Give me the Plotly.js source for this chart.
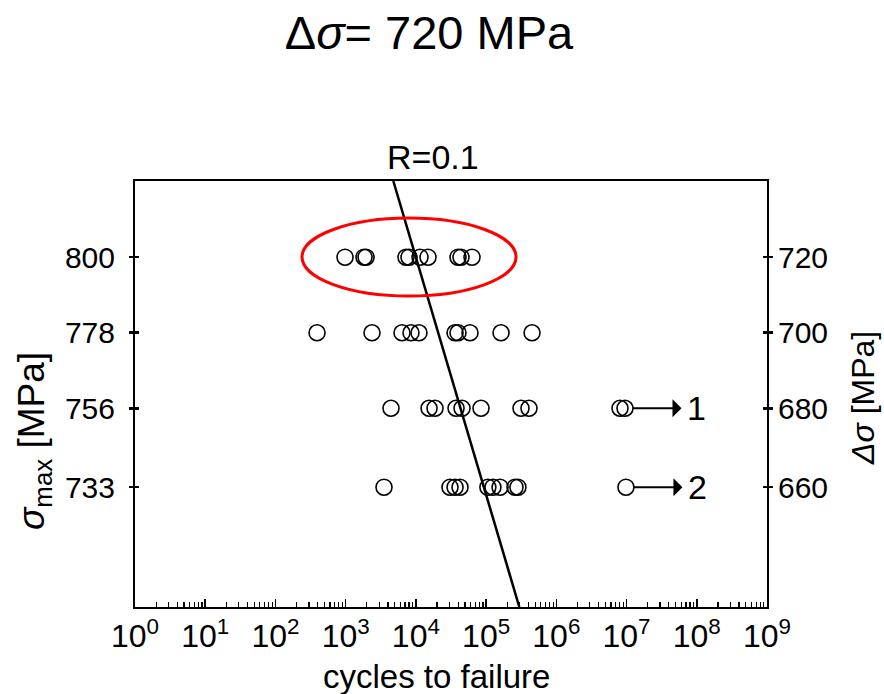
<!DOCTYPE html>
<html><head><meta charset="utf-8">
<script src="https://cdn.plot.ly/plotly-3.0.1.min.js"></script>
<style>html,body{margin:0;padding:0;background:#fff}</style>
</head><body><div id="chart" style="width:884px;height:694px"></div>
<script>
// ---- data ----
const stressLevels = [800, 778, 756, 733];          // sigma_max [MPa]
const rangeLabels  = ['720', '700', '680', '660'];  // delta sigma [MPa]
const cycles800 = [979, 1825, 1950, 7230, 7980, 11450, 14890, 39800, 43900, 63000];
const cycles778 = [391, 2372, 6340, 8520, 11070, 36100, 39800, 59000, 163000, 451000];
const cycles756 = [4420, 15400, 18720, 37300, 45400, 84600, 314000, 408000, 8070000, 9500000];
const cycles733 = [3515, 30600, 36100, 42500, 106000, 125000, 158000, 258000, 284000, 9800000];
const runoutCycles = [9500000, 9800000];
const runoutStress = [756, 733];
const runoutLabels = ['1', '2'];
const fitCycles = [4770, 297000];
const fitStress = [822.2, 698.1];
const ellipseCycles = [239, 266700];
const ellipseStress = [788.7, 811.4];
const xTickVals = [1, 10, 100, 1e3, 1e4, 1e5, 1e6, 1e7, 1e8, 1e9];
const xTickText = xTickVals.map((v, i) => '10<sup>' + i + '</sup>');

const FONT = "'Liberation Sans', Arial, sans-serif";

const allX = [], allY = [];
[cycles800, cycles778, cycles756, cycles733].forEach((arr, i) => {
  arr.forEach(v => { allX.push(v); allY.push(stressLevels[i]); });
});

const traces = [
  { x: fitCycles, y: fitStress, mode: 'lines', type: 'scatter',
    line: { color: '#000', width: 2.5 }, hoverinfo: 'skip', showlegend: false },
  { x: allX, y: allY, mode: 'markers', type: 'scatter',
    marker: { symbol: 'circle-open', size: 16, color: '#000', line: { width: 1.6, color: '#000' } },
    showlegend: false, cliponaxis: false },
  { x: [], y: [], yaxis: 'y2', type: 'scatter', showlegend: false }
];

const annotations = [
  { xref: 'paper', yref: 'paper', x: (433 - 135) / 632, y: (607 - 157) / 426,
    text: 'R=0.1', showarrow: false, font: { family: FONT, size: 34, color: '#000' },
    xanchor: 'center', yanchor: 'middle' },
  { xref: 'paper', yref: 'paper', x: (436 - 135) / 632, y: (607 - 676) / 426,
    text: 'cycles to failure', showarrow: false, font: { family: FONT, size: 33, color: '#000' },
    xanchor: 'center', yanchor: 'middle' },
  { xref: 'paper', yref: 'paper', x: (34 - 135) / 632, y: (607 - 441) / 426,
    text: '<i>σ</i><sub>max</sub> [MPa]', showarrow: false, textangle: -90,
    font: { family: FONT, size: 37, color: '#000' }, xanchor: 'center', yanchor: 'middle' },
  { xref: 'paper', yref: 'paper', x: (863 - 135) / 632, y: (607 - 398) / 426,
    text: '<i>Δσ</i> [MPa]', showarrow: false, textangle: -90,
    font: { family: FONT, size: 32, color: '#000' }, xanchor: 'center', yanchor: 'middle' }
];
runoutCycles.forEach((n, i) => {
  annotations.push({
    x: Math.log10(n), y: runoutStress[i], xref: 'x', yref: 'y',
    ax: 58, ay: 0, axref: 'pixel', ayref: 'pixel', text: '',
    showarrow: true, arrowside: 'start', arrowhead: 1, startarrowhead: 1,
    startarrowsize: 1.5, arrowsize: 1.5, arrowwidth: 2, arrowcolor: '#000', standoff: 8
  });
  annotations.push({
    x: Math.log10(n), y: runoutStress[i], xref: 'x', yref: 'y', xshift: 72,
    text: runoutLabels[i], showarrow: false,
    font: { family: FONT, size: 34, color: '#000' }, xanchor: 'center', yanchor: 'middle'
  });
});

const layout = {
  width: 884, height: 694,
  margin: { l: 135, r: 117, t: 181, b: 87 },
  paper_bgcolor: '#fff', plot_bgcolor: '#fff',
  font: { family: FONT, color: '#000', size: 30 },
  title: { text: 'Δ<i>σ</i>= 720 MPa', font: { family: FONT, size: 47, color: '#000' },
    xref: 'container', yref: 'container', x: 429 / 884, y: 1 - 33 / 694,
    xanchor: 'center', yanchor: 'middle' },
  xaxis: {
    type: 'log', range: [0, 9], tickvals: xTickVals, ticktext: xTickText,
    ticks: 'inside', ticklen: 8, tickwidth: 1.5, tickcolor: '#000',
    minor: { dtick: 'D1', ticks: 'inside', ticklen: 5, tickwidth: 1.2, tickcolor: '#000', showgrid: false },
    showline: true, linecolor: '#000', linewidth: 2, mirror: true,
    showgrid: false, zeroline: false,
    tickfont: { family: FONT, size: 32, color: '#000' }
  },
  yaxis: {
    range: [698.1, 822.2], tickvals: stressLevels, ticktext: stressLevels.map(String),
    ticks: 'outside', ticklen: 4, tickwidth: 2.5, tickcolor: '#000',
    showline: true, linecolor: '#000', linewidth: 2, mirror: 'ticks',
    showgrid: false, zeroline: false, ticklabelstandoff: 8,
    tickfont: { family: FONT, size: 30, color: '#000' }
  },
  yaxis2: {
    overlaying: 'y', side: 'right', matches: 'y', range: [698.1, 822.2],
    tickvals: stressLevels, ticktext: rangeLabels,
    ticks: 'inside', ticklen: 4, tickwidth: 2.5, tickcolor: '#000', mirror: 'ticks',
    showline: false, showgrid: false, zeroline: false, ticklabelstandoff: 10,
    tickfont: { family: FONT, size: 30, color: '#000' }
  },
  shapes: [
    { type: 'circle', xref: 'x', yref: 'y',
      x0: ellipseCycles[0], x1: ellipseCycles[1], y0: ellipseStress[0], y1: ellipseStress[1],
      line: { color: '#ff0000', width: 3 }, layer: 'above' }
  ],
  annotations: annotations,
  showlegend: false
};

Plotly.newPlot('chart', traces, layout, { displayModeBar: false, staticPlot: true });
</script></body></html>
